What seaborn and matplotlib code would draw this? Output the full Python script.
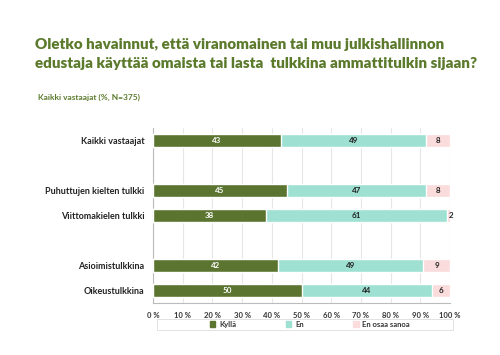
import numpy as np
import pandas as pd
import matplotlib
matplotlib.use('Agg')
import matplotlib.pyplot as plt
import seaborn as sns

rows = ['Kaikki vastaajat', ' ', 'Puhuttujen kielten tulkki', 'Viittomakielen tulkki',
        '  ', 'Asioimistulkkina', 'Oikeustulkkina']
groups = ['Kaikki vastaajat', 'Puhuttujen kielten tulkki', 'Viittomakielen tulkki',
          'Asioimistulkkina', 'Oikeustulkkina']
kylla = [43, 45, 38, 42, 50]
en = [49, 47, 61, 49, 44]
eos = [8, 8, 2, 9, 6]
series = ['Kyllä', 'En', 'En osaa sanoa']
colors = ['#5b7530', '#9ee0d2', '#fbdcdc']
text_colors = ['white', '#222222', '#222222']

df = pd.DataFrame({'ryhma': groups, 'Kyllä': kylla, 'En': en, 'En osaa sanoa': eos})
df['c1'] = df['Kyllä']
df['c2'] = df['Kyllä'] + df['En']
df['c3'] = df['c2'] + df['En osaa sanoa']

sns.set_style('white')
plt.rcParams['font.family'] = ['Lato', 'DejaVu Sans']

fig = plt.figure(figsize=(5, 3.55), dpi=100)
ax = fig.add_axes([0.306, 0.146, 0.594, 0.493])

# stacked bars drawn as overlaid cumulative sums
for col, c in zip(['c3', 'c2', 'c1'], colors[::-1]):
    sns.barplot(data=df, x=col, y='ryhma', order=rows, color=c, width=0.54,
                ax=ax, saturation=1, zorder=3, legend=False)

# segment labels
for i, g in enumerate(groups):
    pos = rows.index(g)
    left = 0
    for s, tc in zip(series, text_colors):
        v = df.loc[i, s]
        x = left + v / 2
        if s == 'En osaa sanoa' and v < 4:
            x = left + v / 2 + 0.3
        ax.text(x, pos, str(v), ha='center', va='center', fontsize=5.8,
                fontweight='bold', color=tc, zorder=5)
        left += v

ax.set_xlim(0, 100)
ax.set_ylim(len(rows) - 0.5, -0.5)
ax.set_xticks(np.arange(0, 101, 10))
ax.set_xticklabels([f'{t} %' for t in range(0, 101, 10)], fontsize=5.5,
                   fontweight='bold', color='#333333')
ax.set_yticks(np.arange(len(rows)))
ax.set_yticklabels(rows, fontsize=6.5, fontweight='bold', color='#222222')
ax.set_yticks(np.arange(-0.5, len(rows), 1), minor=True)
ax.tick_params(axis='y', which='major', length=0, pad=6)
ax.tick_params(axis='y', which='minor', length=3, color='#bbbbbb', width=0.8)
ax.tick_params(axis='x', length=3, color='#bbbbbb', width=0.8, pad=3)
ax.grid(axis='x', color='#e6e6e6', linewidth=0.8, zorder=0)
ax.set_xlabel('')
ax.set_ylabel('')
for sp in ['top', 'right']:
    ax.spines[sp].set_visible(False)
for sp in ['left', 'bottom']:
    ax.spines[sp].set_color('#bbbbbb')
    ax.spines[sp].set_linewidth(0.8)

# legend with its own wide frame
fig.patches.append(plt.Rectangle((0.314, 0.071), 0.592, 0.031, transform=fig.transFigure,
                                 fill=False, edgecolor='#dddddd', linewidth=0.6))
handles = [plt.Rectangle((0, 0), 1, 1, color=c) for c in colors]
leg = fig.legend(handles, series, loc='center', bbox_to_anchor=(0.62, 0.087), ncol=3,
                 fontsize=5.5, frameon=False, handlelength=0.7, handleheight=0.7,
                 columnspacing=6.5, handletextpad=0.5, borderpad=0.2)
for t in leg.get_texts():
    t.set_fontweight('bold')
    t.set_color('#333333')

fig.text(0.07, 0.875, 'Oletko havainnut, että viranomainen tai muu julkishallinnon',
         fontsize=10.9, fontweight='heavy', color='#5b7a2c', va='center')
fig.text(0.07, 0.822, 'edustaja käyttää omaista tai lasta  tulkkina ammattitulkin sijaan?',
         fontsize=10.9, fontweight='heavy', color='#5b7a2c', va='center')
fig.text(0.076, 0.727, 'Kaikki vastaajat (%, N=375)', fontsize=6, fontweight='bold',
         color='#5b7a2c', va='center')

fig.savefig('out.png', dpi=100)
